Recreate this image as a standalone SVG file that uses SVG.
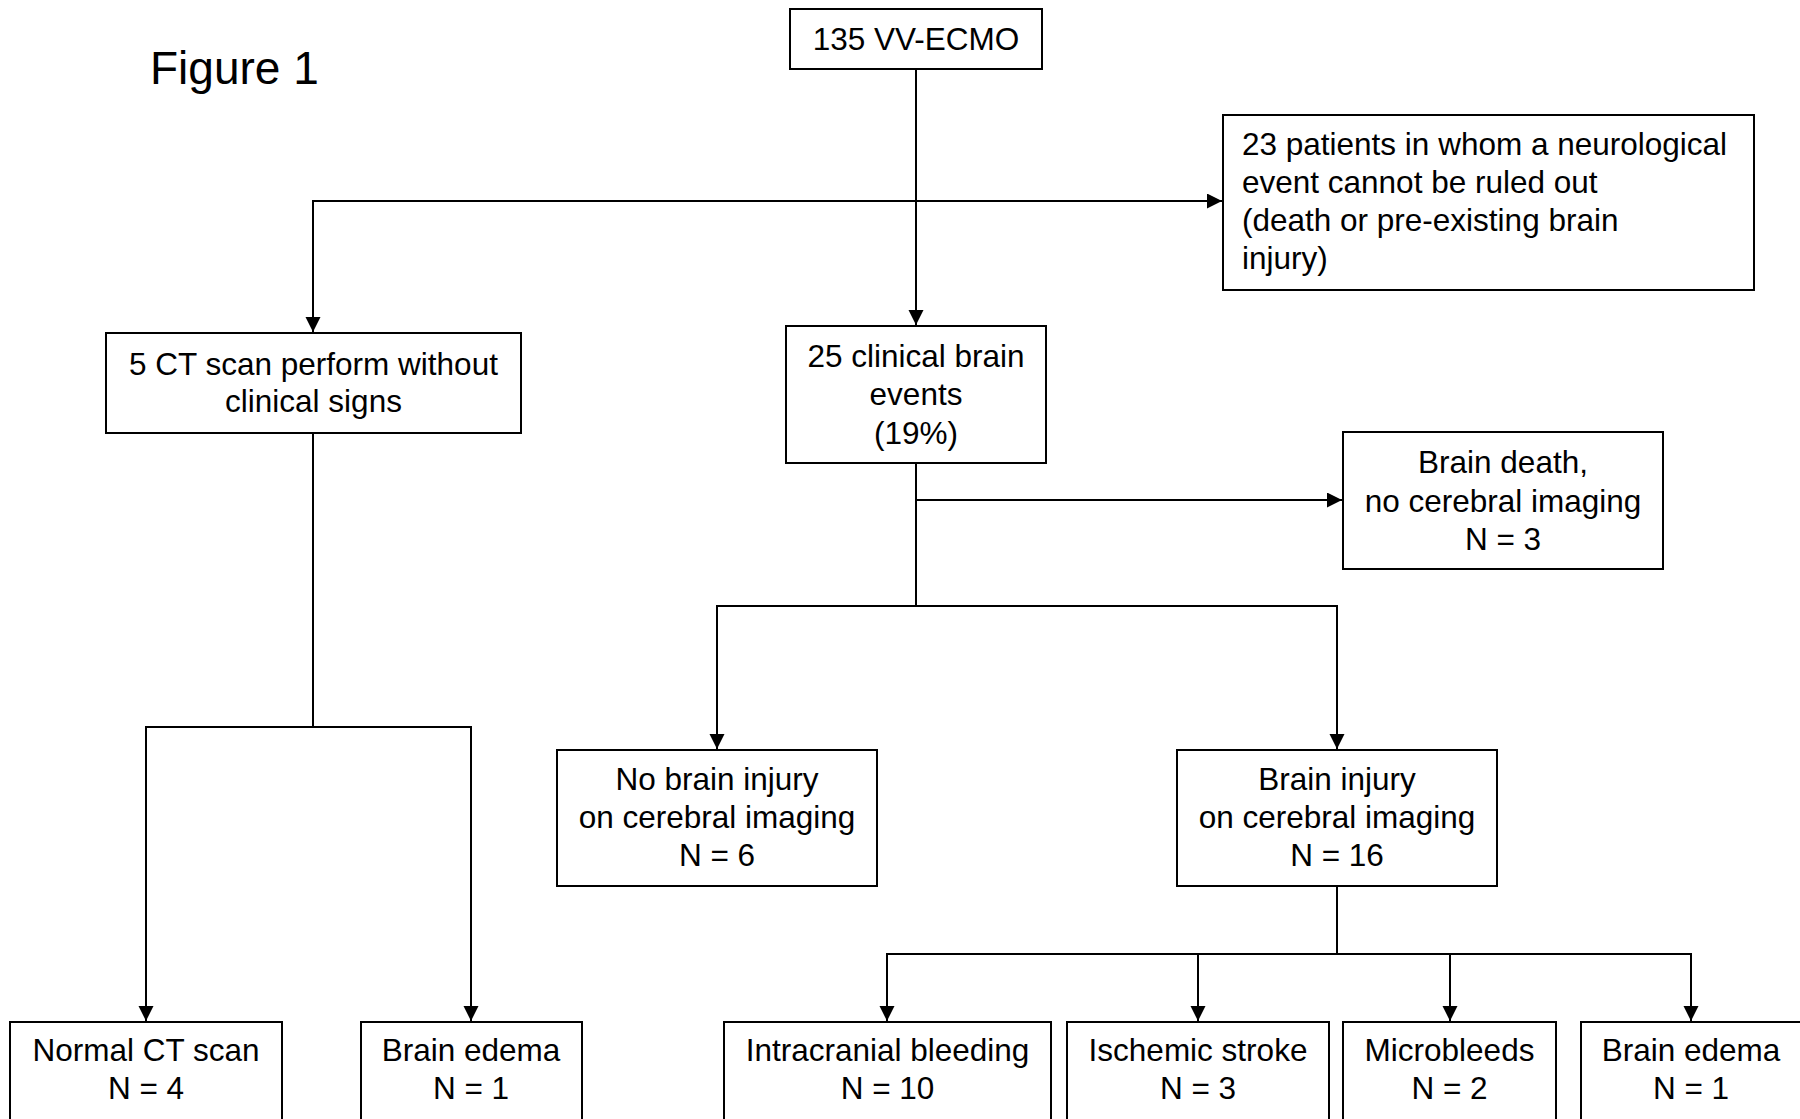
<svg xmlns="http://www.w3.org/2000/svg" width="1800" height="1119" viewBox="0 0 1800 1119">
<style>
.box{fill:#fff;stroke:#000;stroke-width:2}
.t{font-family:"Liberation Sans",Arial,sans-serif;font-size:31.5px;fill:#000;text-anchor:middle}
.l{text-anchor:start}
.c{fill:none;stroke:#000;stroke-width:2}
</style>
<defs>
<marker id="ah" markerUnits="userSpaceOnUse" markerWidth="16" markerHeight="16" refX="15" refY="7.5" orient="auto">
<path d="M0,0 L15,7.5 L0,15 z" fill="#000"/>
</marker>
</defs>
<rect width="1800" height="1119" fill="#fff"/>
<text x="150" y="84" font-family="Liberation Sans,Arial,sans-serif" font-size="46" fill="#000">Figure 1</text>
<g id="connectors">
<path class="c" d="M916,69 V325" marker-end="url(#ah)"/>
<path class="c" d="M916,201 H313 V332" marker-end="url(#ah)"/>
<path class="c" d="M916,201 H1222" marker-end="url(#ah)"/>
<path class="c" d="M313,433 V727 H146 V1021" marker-end="url(#ah)"/>
<path class="c" d="M313,727 H471 V1021" marker-end="url(#ah)"/>
<path class="c" d="M916,463 V606 H717 V749" marker-end="url(#ah)"/>
<path class="c" d="M916,606 H1337 V749" marker-end="url(#ah)"/>
<path class="c" d="M916,500 H1342" marker-end="url(#ah)"/>
<path class="c" d="M1337,886 V954 H887 V1021" marker-end="url(#ah)"/>
<path class="c" d="M1337,954 H1691 V1021" marker-end="url(#ah)"/>
<path class="c" d="M1198,954 V1021" marker-end="url(#ah)"/>
<path class="c" d="M1450,954 V1021" marker-end="url(#ah)"/>
</g>
<g id="n135">
<rect class="box" x="790" y="9" width="252" height="60"/>
<text class="t" x="916" y="50">135 VV-ECMO</text>
</g>
<g id="n23">
<rect class="box" x="1223" y="115" width="531" height="175"/>
<text class="t l" x="1242" y="155">23 patients in whom a neurological</text>
<text class="t l" x="1242" y="193">event cannot be ruled out</text>
<text class="t l" x="1242" y="231">(death or pre-existing brain</text>
<text class="t l" x="1242" y="269">injury)</text>
</g>
<g id="n5ct">
<rect class="box" x="106" y="333" width="415" height="100"/>
<text class="t" x="313.5" y="375">5 CT scan perform without</text>
<text class="t" x="313.5" y="412">clinical signs</text>
</g>
<g id="n25">
<rect class="box" x="786" y="326" width="260" height="137"/>
<text class="t" x="916" y="367">25 clinical brain</text>
<text class="t" x="916" y="405">events</text>
<text class="t" x="916" y="444">(19%)</text>
</g>
<g id="nbraindeath">
<rect class="box" x="1343" y="432" width="320" height="137"/>
<text class="t" x="1503" y="473">Brain death,</text>
<text class="t" x="1503" y="512">no cerebral imaging</text>
<text class="t" x="1503" y="550">N = 3</text>
</g>
<g id="nnoinjury">
<rect class="box" x="557" y="750" width="320" height="136"/>
<text class="t" x="717" y="790">No brain injury</text>
<text class="t" x="717" y="828">on cerebral imaging</text>
<text class="t" x="717" y="866">N = 6</text>
</g>
<g id="ninjury">
<rect class="box" x="1177" y="750" width="320" height="136"/>
<text class="t" x="1337" y="790">Brain injury</text>
<text class="t" x="1337" y="828">on cerebral imaging</text>
<text class="t" x="1337" y="866">N = 16</text>
</g>
<g id="nnormal">
<rect class="box" x="10" y="1022" width="272" height="130"/>
<text class="t" x="146" y="1061">Normal CT scan</text>
<text class="t" x="146" y="1099">N = 4</text>
</g>
<g id="nedema1">
<rect class="box" x="361" y="1022" width="221" height="130"/>
<text class="t" x="471" y="1061">Brain edema</text>
<text class="t" x="471" y="1099">N = 1</text>
</g>
<g id="nbleeding">
<rect class="box" x="724" y="1022" width="327" height="130"/>
<text class="t" x="887.5" y="1061">Intracranial bleeding</text>
<text class="t" x="887.5" y="1099">N = 10</text>
</g>
<g id="nstroke">
<rect class="box" x="1067" y="1022" width="262" height="130"/>
<text class="t" x="1198" y="1061">Ischemic stroke</text>
<text class="t" x="1198" y="1099">N = 3</text>
</g>
<g id="nmicro">
<rect class="box" x="1343" y="1022" width="213" height="130"/>
<text class="t" x="1449.5" y="1061">Microbleeds</text>
<text class="t" x="1449.5" y="1099">N = 2</text>
</g>
<g id="nedema2">
<rect class="box" x="1581" y="1022" width="260" height="130"/>
<text class="t" x="1691" y="1061">Brain edema</text>
<text class="t" x="1691" y="1099">N = 1</text>
</g>
</svg>
